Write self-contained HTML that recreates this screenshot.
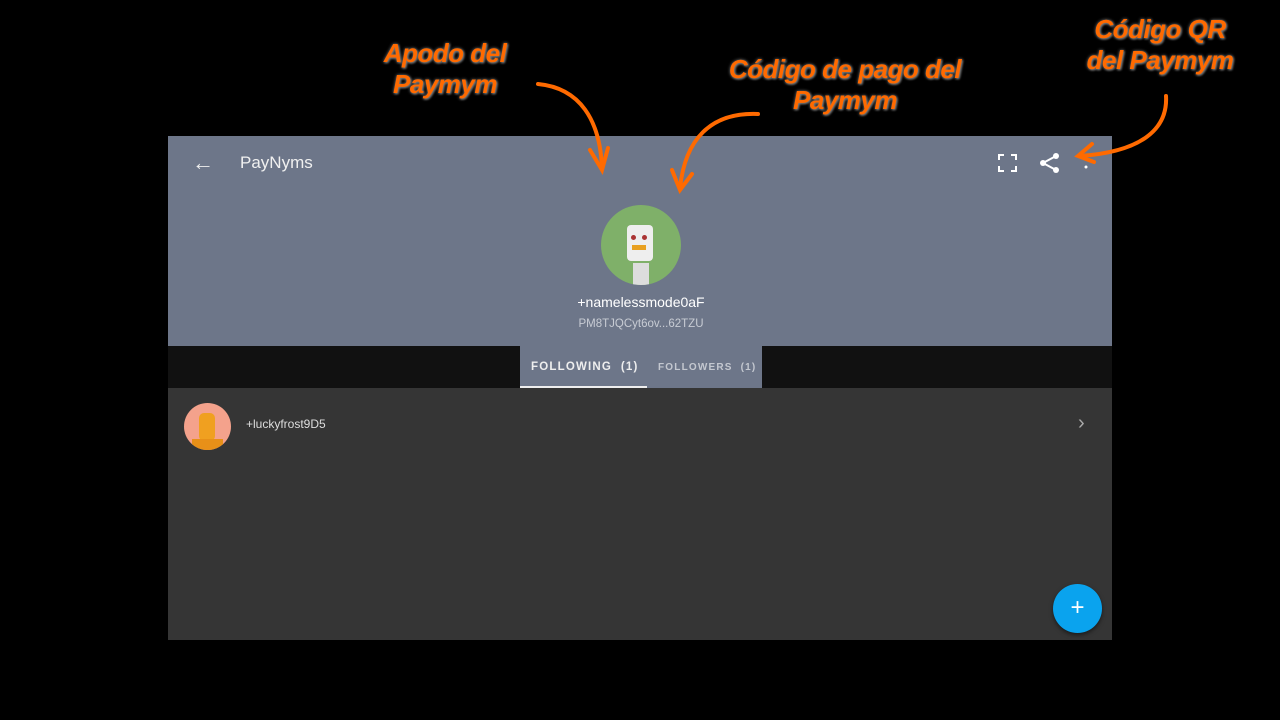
<!DOCTYPE html>
<html><head><meta charset="utf-8"><style>
body{margin:0;width:1280px;height:720px;background:#000;position:relative;overflow:hidden;font-family:"Liberation Sans",sans-serif}
.a{position:absolute}
.lbl{position:absolute;color:#ff6a00;font-weight:bold;font-style:italic;font-size:26px;text-align:center;line-height:31px;text-shadow:0 0 3px #777,1px 1px 2px #888;letter-spacing:-0.5px}
</style></head><body>
<div class="a" style="left:168px;top:136px;width:944px;height:210px;background:#6d7689"></div>
<div class="a" style="left:168px;top:346px;width:944px;height:42px;background:#111"></div>
<div class="a" style="left:520px;top:346px;width:242px;height:42px;background:#6d7689"></div>
<div class="a" style="left:520px;top:386px;width:127px;height:2px;background:#eee"></div>
<div class="a" style="left:168px;top:388px;width:944px;height:252px;background:#353535"></div>
<div class="a" style="left:192px;top:150px;color:#eee;font-size:22px">←</div>
<div class="a" style="left:240px;top:153px;color:#f0f0f0;font-size:17px">PayNyms</div>
<svg class="a" style="left:995px;top:150px" width="100" height="26" viewBox="0 0 100 26">
<path d="M4 10V5h5M16 5h5v5M21 16v5h-5M9 21H4v-5" stroke="#fff" stroke-width="2" fill="none"/>
<circle cx="61" cy="6" r="3" fill="#fff"/><circle cx="61" cy="20" r="3" fill="#fff"/><circle cx="48" cy="13" r="3" fill="#fff"/>
<path d="M61 6L48 13L61 20" stroke="#fff" stroke-width="2" fill="none"/>
<circle cx="91" cy="17" r="1.5" fill="#fff"/></svg>
<div class="a" style="left:601px;top:205px;width:80px;height:80px;border-radius:50%;background:#7fb069;overflow:hidden">
<div class="a" style="left:26px;top:20px;width:26px;height:36px;background:#eee;border-radius:4px"></div>
<div class="a" style="left:30px;top:30px;width:5px;height:5px;background:#a33;border-radius:50%"></div>
<div class="a" style="left:41px;top:30px;width:5px;height:5px;background:#a33;border-radius:50%"></div>
<div class="a" style="left:31px;top:40px;width:14px;height:5px;background:#e8a020"></div>
<div class="a" style="left:32px;top:58px;width:16px;height:22px;background:#ddd"></div>
</div>
<div class="a" style="left:541px;top:294px;width:200px;text-align:center;color:#fff;font-size:14px">+namelessmode0aF</div>
<div class="a" style="left:541px;top:318px;width:200px;text-align:center;color:#c8ccd4;font-size:11.5px">PM8TJQCyt6ov...62TZU</div>
<div class="a" style="left:531px;top:361px;color:#eee;font-size:11.5px;font-weight:bold;letter-spacing:1.2px">FOLLOWING&nbsp; (1)</div>
<div class="a" style="left:658px;top:362px;color:#c4c8d0;font-size:10px;font-weight:bold;letter-spacing:1.2px">FOLLOWERS&nbsp; (1)</div>
<div class="a" style="left:184px;top:403px;width:47px;height:47px;border-radius:50%;background:#f4a28c;overflow:hidden">
<div class="a" style="left:15px;top:10px;width:16px;height:28px;background:#f0a020;border-radius:5px"></div>
<div class="a" style="left:8px;top:36px;width:31px;height:14px;background:#e89018"></div></div>
<div class="a" style="left:246px;top:417px;color:#ddd;font-size:12px">+luckyfrost9D5</div>
<div class="a" style="left:1078px;top:412px;color:#aaa;font-size:20px">›</div>
<div class="a" style="left:1053px;top:584px;width:49px;height:49px;border-radius:50%;background:#0aa3ee;box-shadow:0 2px 4px rgba(0,0,0,.5);color:#fff;font-size:24px;text-align:center;line-height:48px">+</div>
<div class="lbl" style="left:360px;top:38px;width:170px">Apodo del<br>Paymym</div>
<div class="lbl" style="left:700px;top:54px;width:290px">Código de pago del<br>Paymym</div>
<div class="lbl" style="left:1070px;top:14px;width:180px">Código QR<br>del Paymym</div>
<svg class="a" style="left:0;top:0" width="1280" height="720">
<g stroke="#ff6a00" stroke-width="4" fill="none" stroke-linecap="round">
<path d="M538 84C580 88 600 120 602 168"/><path d="M590 150L602 170L608 148"/>
<path d="M758 114C710 112 685 140 680 188"/><path d="M672 170L680 190L692 174"/>
<path d="M1166 96C1168 130 1140 152 1080 156"/><path d="M1092 144L1078 156L1094 162"/>
</g></svg>
</body></html>
